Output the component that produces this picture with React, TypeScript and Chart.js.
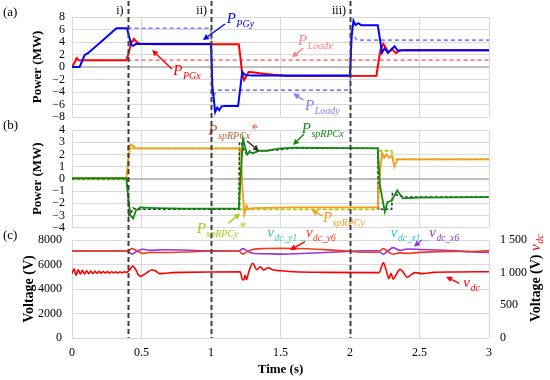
import React, { useEffect, useRef } from 'react';
import { Chart, registerables } from 'chart.js';

Chart.register(...registerables);

const FONT = '"Liberation Serif", "Times New Roman", Times, serif';
const GRID = '#D9D9D9';
const ZERO = '#BFBFBF';
const RED = '#FF0000';
const BLUE = '#0000FF';
const PINK = '#FF8080';
const LBLUE = '#8080FF';
const GREEN = '#138A13';
const ORANGE = '#F99A1C';
const SIENNA = '#BF6030';
const YGREEN = '#A8CC14';
const PURPLE = '#9933DD';
const ORED = '#F23A1E';
const TEAL = '#2ECC99';
const CYAN = '#22CCEE';

// ---- event times (vertical dashed lines) ----
const eventTimes = [0.4, 1.0, 2.0];
const eventLabels = ['i)', 'ii)', 'iii)'];

// ---- panel (a): grid powers (MW) ----
const pgyT = [0, 0.055, 0.07, 0.09, 0.115, 0.32, 0.395, 0.41, 0.425, 0.44, 0.46, 0.5, 1.0, 1.01, 1.03, 1.045, 1.06, 1.075, 1.1, 1.195, 1.21, 1.225, 1.24, 1.26, 1.3, 1.5, 2.0, 2.012, 2.025, 2.04, 2.06, 2.08, 2.2, 2.215, 2.23, 2.25, 2.27, 2.29, 2.32, 2.345, 2.4, 3.0];
const pgyV = [0, 0, 0.8, 1.9, 2.2, 6.2, 6.2, 5.0, 3.6, 3.4, 3.7, 3.7, 3.7, -3.0, -7.2, -6.5, -6.9, -6.3, -6.25, -6.25, -3.5, -0.8, -1.2, -1.3, -1.35, -1.35, -1.35, 5.0, 7.4, 6.7, 7.0, 6.7, 6.7, 4.5, 2.3, 3.0, 2.3, 2.6, 3.3, 2.6, 2.7, 2.7];
const pgxT = [0, 0.02, 0.034, 0.05, 0.07, 0.39, 0.405, 0.425, 0.445, 0.465, 0.49, 0.6, 1.2, 1.212, 1.225, 1.238, 1.255, 1.27, 1.3, 1.35, 1.45, 1.55, 1.7, 2.19, 2.205, 2.22, 2.24, 2.26, 2.275, 2.3, 2.33, 2.36, 3.0];
const pgxV = [0, 0.8, 1.4, 1.05, 1.1, 1.1, 2.0, 3.8, 4.5, 4.0, 3.7, 3.65, 3.65, 1.5, -1.2, -2.1, -1.5, -0.8, -0.85, -1.0, -1.25, -1.45, -1.45, -1.4, 0.8, 2.8, 3.7, 3.0, 2.3, 2.9, 2.2, 2.7, 2.7];
const loadxT = [0.4, 3.0];
const loadxV = [1.1, 1.1];
const loadyT = [0.4, 1.0, 1.01, 1.05, 2.0, 2.01, 2.05, 3.0];
const loadyV = [6.2, 6.2, -4.8, -3.7, -3.7, 5.6, 4.3, 4.3];

// ---- panel (b): spRPC powers (MW) ----
const rpcyT = [0, 0.39, 0.405, 0.42, 0.44, 0.46, 0.5, 1.215, 1.225, 1.24, 1.255, 1.27, 1.3, 1.6, 2.2, 2.216, 2.23, 2.245, 2.26, 2.28, 2.3, 2.32, 2.34, 3.0];
const rpcyV = [0.05, 0.05, 1.5, 2.8, 2.7, 2.5, 2.5, 2.5, -0.5, -2.9, -2.2, -2.5, -2.4, -2.35, -2.35, 0.5, 2.1, 1.7, 2.0, 1.7, 1.9, 1.0, 1.6, 1.6];
const rpcxT = [0, 0.39, 0.405, 0.42, 0.44, 0.46, 0.49, 0.6, 0.8, 1.2, 1.215, 1.23, 1.245, 1.26, 1.28, 1.3, 1.35, 1.4, 1.5, 1.6, 2.2, 2.215, 2.25, 2.27, 2.3, 2.34, 2.38, 2.5, 3.0];
const rpcxV = [0.05, 0.05, -1.5, -3.0, -3.25, -2.6, -2.35, -2.4, -2.45, -2.45, 0.5, 3.3, 2.6, 2.0, 2.2, 2.1, 2.3, 2.3, 2.5, 2.55, 2.5, -0.5, -2.7, -1.9, -1.8, -0.95, -1.6, -1.55, -1.5];
const rpcxRefT = [0, 0.395, 0.41, 0.425, 0.44, 0.46, 1.2, 1.205, 1.22, 1.24, 1.26, 1.28, 1.3, 1.33, 1.4, 1.6, 2.2, 2.205, 2.3, 2.305, 2.33, 2.4, 3.0];
const rpcxRefV = [0, 0, -3.0, -2.8, -2.4, -2.5, -2.5, 3.0, 2.9, 2.3, 2.0, 2.3, 2.1, 2.3, 2.3, 2.5, 2.5, -2.5, -2.5, -1.2, -1.3, -1.5, -1.5];
const rpcyRefT = [0, 0.4, 0.403, 1.205, 1.208, 2.2, 2.203, 2.3, 2.31, 3.0];
const rpcyRefV = [-0.05, -0.05, 2.5, 2.5, -2.5, -2.5, 2.3, 2.3, 1.6, 1.6];

// ---- panel (c): voltages ----
const smT = [0, 0.4, 0.43, 0.47, 0.51, 0.56, 0.65, 0.8, 1.0, 1.2, 1.23, 1.26, 1.3, 1.4, 1.5, 1.7, 1.9, 2.0, 2.1, 2.2, 2.24, 2.27, 2.31, 2.36, 2.41, 2.5, 2.75, 2.85, 3.0];
const vdcY6V = [7100, 7100, 7300, 7100, 6900, 6980, 6980, 7020, 7080, 7080, 6850, 7050, 7230, 7300, 7320, 7280, 7150, 7080, 7000, 7000, 7300, 7080, 6840, 6950, 6910, 6990, 7070, 7050, 7130];
const vdcX6V = [7100, 7100, 6850, 7100, 7250, 7150, 7200, 7180, 7110, 7100, 7300, 7100, 6920, 6880, 6850, 6920, 7020, 7080, 7120, 7120, 6840, 7080, 7380, 7150, 7260, 7230, 7130, 7050, 6990];
const vdcT = [
  0, 0.015, 0.03, 0.045, 0.06, 0.075, 0.09, 0.105, 0.12, 0.135, 0.15, 0.165, 0.18, 0.195, 0.21, 0.225, 0.24, 0.255, 0.27, 0.285, 0.3, 0.315, 0.33, 0.345, 0.36, 0.375, 0.39,
  0.415, 0.435, 0.455, 0.475, 0.49, 0.51, 0.54, 0.57, 0.6, 0.63, 0.67, 0.72, 0.8, 1.0, 1.21,
  1.225, 1.235, 1.245, 1.255, 1.27, 1.3, 1.33, 1.355, 1.38, 1.41, 1.45, 1.5, 1.6, 1.8, 2.21,
  2.225, 2.24, 2.26, 2.28, 2.295, 2.31, 2.33, 2.36, 2.385, 2.41, 2.44, 2.47, 2.52, 2.6, 2.75, 3.0,
];
const vdcV = [
  985, 1060, 960, 1045, 975, 1035, 980, 1030, 985, 1025, 988, 1022, 990, 1020, 992, 1018, 994, 1016, 995, 1015, 996, 1014, 997, 1013, 998, 1012, 1005,
  1040, 1100, 1060, 975, 945, 960, 1000, 1040, 1030, 985, 990, 1000, 1005, 1010, 1012,
  900, 890, 960, 895, 1000, 1143, 1045, 1090, 1040, 1075, 1040, 1030, 1015, 1005, 1000,
  1080, 1150, 1040, 910, 990, 900, 960, 1050, 1000, 930, 970, 1000, 985, 1005, 1010, 1015,
];

// ---- annotations (data coordinates) ----
type Lab = { t: number; v: number; main: string; sub: string; color: string; star?: boolean; axis?: string; subSize?: number };
type Arr = { t1: number; v1: number; t2: number; v2: number; color: string; axis?: string };

const labelsA: Lab[] = [
  { t: 1.113, v: 7.12, main: 'P', sub: 'PGy', color: BLUE },
  { t: 0.729, v: -1.28, main: 'P', sub: 'PGx', color: RED },
  { t: 1.626, v: 3.52, main: 'P', sub: 'Loadx', color: PINK },
  { t: 1.676, v: -6.88, main: 'P', sub: 'Loady', color: LBLUE },
];
const arrowsA: Arr[] = [
  { t1: 1.101, v1: 6.88, t2: 0.942, v2: 4.32, color: BLUE },
  { t1: 0.719, v1: -0.32, t2: 0.576, v2: 2.72, color: RED },
  { t1: 1.664, v1: 2.99, t2: 1.581, v2: 1.55, color: PINK },
  { t1: 1.664, v1: -5.28, t2: 1.592, v2: -4.21, color: LBLUE },
];
const labelsB: Lab[] = [
  { t: 0.981, v: 3.59, main: 'P', sub: 'spRPCx', color: SIENNA, star: true },
  { t: 1.653, v: 3.75, main: 'P', sub: 'spRPCx', color: GREEN },
  { t: 1.806, v: -3.54, main: 'P', sub: 'spRPCy', color: ORANGE },
  { t: 0.897, v: -4.44, main: 'P', sub: 'spRPCy', color: YGREEN, star: true },
];
const arrowsB: Arr[] = [
  { t1: 1.259, v1: 3.1, t2: 1.345, v2: 2.28, color: '#333333' },
  { t1: 1.669, v1: 3.67, t2: 1.59, v2: 2.77, color: GREEN },
  { t1: 1.804, v1: -3.05, t2: 1.724, v2: -2.56, color: ORANGE },
  { t1: 1.124, v1: -3.65, t2: 1.209, v2: -2.83, color: YGREEN },
];
const labelsC: Lab[] = [
  { t: 1.405, v: 8245, main: 'v', sub: 'dc_y1 ...', color: TEAL, subSize: 9.5 },
  { t: 1.683, v: 8245, main: 'v', sub: 'dc_y6', color: ORED, subSize: 9.5 },
  { t: 2.293, v: 8245, main: 'v', sub: 'dc_x1 ...', color: CYAN, subSize: 9.5 },
  { t: 2.571, v: 8245, main: 'v', sub: 'dc_x6', color: PURPLE, subSize: 9.5 },
  { t: 2.815, v: 781, main: 'v', sub: 'dc', color: RED, axis: 'y2' },
];
const arrowsC: Arr[] = [
  { t1: 1.676, v1: 7861, t2: 1.568, v2: 7184, color: RED },
  { t1: 2.516, v1: 8000, t2: 2.46, v2: 7453, color: PURPLE },
  { t1: 2.786, v1: 837, t2: 2.691, v2: 938, color: RED, axis: 'y2' },
];

const pts = (t: number[], v: number[]) => t.map((x, i) => ({ x, y: v[i] }));
const minus = (v: number) => (v < 0 ? '\u2212' + Math.abs(v) : String(v));
const spaced = (v: number) => String(v).replace(/\B(?=(\d{3})+(?!\d))/g, ' ');

function line(label: string, t: number[], v: number[], color: string, width: number, extra: any = {}) {
  return { label, data: pts(t, v), borderColor: color, backgroundColor: color, borderWidth: width, pointRadius: 0, fill: false, tension: 0, ...extra };
}

function drawSub(ctx: CanvasRenderingContext2D, x: number, y: number, l: Lab) {
  ctx.save();
  ctx.fillStyle = l.color;
  ctx.textAlign = 'left';
  ctx.textBaseline = 'alphabetic';
  ctx.font = `italic 15px ${FONT}`;
  ctx.fillText(l.main, x, y);
  let w = ctx.measureText(l.main).width + 0.5;
  ctx.font = `italic ${l.subSize || 10}px ${FONT}`;
  ctx.fillText(l.sub, x + w, y + 4);
  w += ctx.measureText(l.sub).width;
  if (l.star) {
    ctx.font = `14px ${FONT}`;
    ctx.fillText('*', x + w + 1, y - 1);
  }
  ctx.restore();
}

function drawArrow(ctx: CanvasRenderingContext2D, x1: number, y1: number, x2: number, y2: number, color: string) {
  const ang = Math.atan2(y2 - y1, x2 - x1);
  const hl = 6, hw = 3;
  const bx = x2 - hl * Math.cos(ang), by = y2 - hl * Math.sin(ang);
  ctx.save();
  ctx.strokeStyle = color;
  ctx.fillStyle = color;
  ctx.lineWidth = 1.4;
  ctx.beginPath();
  ctx.moveTo(x1, y1);
  ctx.lineTo(bx, by);
  ctx.stroke();
  ctx.beginPath();
  ctx.moveTo(x2, y2);
  ctx.lineTo(bx - hw * Math.sin(ang), by + hw * Math.cos(ang));
  ctx.lineTo(bx + hw * Math.sin(ang), by - hw * Math.cos(ang));
  ctx.closePath();
  ctx.fill();
  ctx.restore();
}

function annotPlugin(id: string, panel: string, labels: Lab[], arrows: Arr[], extra?: (chart: any) => void) {
  return {
    id,
    afterDatasetsDraw(chart: any) {
      const ctx = chart.ctx as CanvasRenderingContext2D;
      const xs = chart.scales.x;
      arrows.forEach((a) => {
        const ys = chart.scales[a.axis || 'y'];
        drawArrow(ctx, xs.getPixelForValue(a.t1), ys.getPixelForValue(a.v1), xs.getPixelForValue(a.t2), ys.getPixelForValue(a.v2), a.color);
      });
      labels.forEach((l) => {
        const ys = chart.scales[l.axis || 'y'];
        drawSub(ctx, xs.getPixelForValue(l.t), ys.getPixelForValue(l.v), l);
      });
      ctx.save();
      ctx.fillStyle = '#000';
      ctx.font = `13px ${FONT}`;
      ctx.textAlign = 'left';
      ctx.textBaseline = 'alphabetic';
      ctx.fillText(panel, 3, chart.chartArea.top - 1.5);
      ctx.restore();
      if (extra) extra(chart);
    },
  };
}

const tickFont = { family: FONT, size: 12 };
const titleFont = (size: number) => ({ family: FONT, size, weight: 'bold' as const });

function xScale(show: boolean) {
  return {
    type: 'linear',
    min: 0,
    max: 3,
    ticks: { display: show, stepSize: 0.5, padding: 8, font: tickFont, color: '#000', callback: (v: any) => String(v) },
    grid: { color: GRID, drawTicks: false, lineWidth: 1 },
    border: { display: false },
    title: show
      ? { display: true, text: 'Time (s)', font: titleFont(13), color: '#000', padding: { top: 0, bottom: 3 } }
      : { display: false },
    afterFit: (s: any) => {
      s.height = show ? 42 : 0;
    },
  };
}

function powerY(min: number, max: number, step: number) {
  return {
    type: 'linear',
    min,
    max,
    ticks: { stepSize: step, autoSkip: false, padding: 7, font: tickFont, color: '#000', callback: (v: any) => minus(v) },
    grid: {
      color: (c: any) => (c.tick && c.tick.value === 0 ? ZERO : GRID),
      lineWidth: (c: any) => (c.tick && c.tick.value === 0 ? 2 : 1),
      drawTicks: false,
    },
    border: { display: false },
    title: { display: true, text: 'Power (MW)', font: titleFont(13), color: '#000', padding: { top: 0, bottom: 0 } },
    afterFit: (s: any) => {
      s.width = 42.3;
    },
  };
}

function baseOptions(padding: any, scales: any) {
  return {
    responsive: false,
    animation: false,
    events: [],
    layout: { padding },
    plugins: { legend: { display: false }, tooltip: { enabled: false } },
    scales,
  };
}

function configA(): any {
  return {
    type: 'line',
    data: {
      datasets: [
        line('P_PGy', pgyT, pgyV, BLUE, 2),
        line('P_PGx', pgxT, pgxV, RED, 2),
        line('P_Loadx', loadxT, loadxV, PINK, 1.6, { borderDash: [4, 3] }),
        line('P_Loady', loadyT, loadyV, LBLUE, 1.6, { borderDash: [4, 3] }),
      ],
    },
    options: baseOptions({ left: 29.7, right: 61, top: 17, bottom: 263 }, { x: xScale(false), y: powerY(-8, 8, 2) }),
    plugins: [
      annotPlugin('annA', '(a)', labelsA, arrowsA, (chart: any) => {
        const ctx = chart.ctx as CanvasRenderingContext2D;
        ctx.save();
        ctx.fillStyle = '#000';
        ctx.font = `12px ${FONT}`;
        ctx.textAlign = 'right';
        ctx.textBaseline = 'alphabetic';
        eventTimes.forEach((t, i) => {
          ctx.fillText(eventLabels[i], chart.scales.x.getPixelForValue(t) - 4, chart.chartArea.top - 3.5);
        });
        ctx.restore();
      }),
    ],
  };
}

function configB(): any {
  return {
    type: 'line',
    data: {
      datasets: [
        line('P_spRPCx', rpcxT, rpcxV, GREEN, 1.8),
        line('P_spRPCy', rpcyT, rpcyV, ORANGE, 1.8),
        line('P_spRPCx*', rpcxRefT, rpcxRefV, '#1F3F1F', 1.5, { borderDash: [3, 2] }),
        line('P_spRPCy*', rpcyRefT, rpcyRefV, YGREEN, 1.8, { borderDash: [4, 2] }),
      ],
    },
    options: baseOptions({ left: 29.7, right: 61, top: 130, bottom: 152.4 }, { x: xScale(false), y: powerY(-4, 4, 1) }),
    plugins: [annotPlugin('annB', '(b)', labelsB, arrowsB)],
  };
}

function configC(): any {
  return {
    type: 'line',
    data: {
      datasets: [
        line('v_dc_y6', smT, vdcY6V, ORED, 1.6, { cubicInterpolationMode: 'monotone', yAxisID: 'y' }),
        line('v_dc_x6', smT, vdcX6V, PURPLE, 1.6, { cubicInterpolationMode: 'monotone', yAxisID: 'y' }),
        line('v_dc', vdcT, vdcV, RED, 1.6, { cubicInterpolationMode: 'monotone', yAxisID: 'y2' }),
      ],
    },
    options: baseOptions(
      { left: 21.1, right: 21, top: 240, bottom: 0 },
      {
        x: xScale(true),
        y: {
          type: 'linear',
          position: 'left',
          min: 0,
          max: 8000,
          ticks: { stepSize: 2000, autoSkip: false, padding: 10, font: tickFont, color: '#000', callback: (v: any) => String(v) },
          grid: { color: GRID, drawTicks: false },
          border: { display: false },
          title: { display: true, text: 'Voltage (V)', font: titleFont(14), color: '#000', padding: { top: 0, bottom: 0 } },
          afterFit: (s: any) => {
            s.width = 50.9;
          },
        },
        y2: {
          type: 'linear',
          position: 'right',
          min: 0,
          max: 1500,
          ticks: { stepSize: 500, autoSkip: false, padding: 11, font: tickFont, color: '#000', callback: (v: any) => spaced(v) },
          grid: { display: false, drawTicks: false },
          border: { display: false },
          afterFit: (s: any) => {
            s.width = 40;
          },
        },
      }
    ),
    plugins: [
      annotPlugin('annC', '(c)', labelsC, arrowsC, (chart: any) => {
        const ctx = chart.ctx as CanvasRenderingContext2D;
        const xs = chart.scales.x;
        // vertical event lines across all panels
        ctx.save();
        ctx.strokeStyle = '#404040';
        ctx.lineWidth = 2;
        ctx.setLineDash([5, 3]);
        eventTimes.forEach((t) => {
          const x = Math.round(xs.getPixelForValue(t)) + 0.5;
          ctx.beginPath();
          ctx.moveTo(x, 1);
          ctx.lineTo(x, chart.chartArea.bottom);
          ctx.stroke();
        });
        ctx.restore();
        // right axis title
        const y2 = chart.scales.y2;
        ctx.save();
        ctx.translate(y2.right + 7, (chart.chartArea.bottom + chart.chartArea.top) / 2 + 33);
        ctx.rotate(-Math.PI / 2);
        ctx.textBaseline = 'middle';
        ctx.textAlign = 'left';
        ctx.fillStyle = '#000';
        ctx.font = `bold 14px ${FONT}`;
        const t1 = 'Voltage (V) ';
        ctx.fillText(t1, 0, 0);
        let w = ctx.measureText(t1).width;
        ctx.fillStyle = RED;
        ctx.font = `italic 15px ${FONT}`;
        ctx.fillText('v', w, 0);
        w += ctx.measureText('v').width + 0.5;
        ctx.font = `italic 10px ${FONT}`;
        ctx.fillText('dc', w, 4);
        ctx.restore();
      }),
    ],
  };
}

export default function App() {
  const ra = useRef<HTMLCanvasElement>(null);
  const rb = useRef<HTMLCanvasElement>(null);
  const rc = useRef<HTMLCanvasElement>(null);
  useEffect(() => {
    const charts = [new Chart(ra.current!, configA()), new Chart(rb.current!, configB()), new Chart(rc.current!, configC())];
    return () => charts.forEach((c) => c.destroy());
  }, []);
  const cs: React.CSSProperties = { position: 'absolute', left: 0, top: 0, width: 550, height: 380 };
  return (
    <div style={{ position: 'fixed', left: 0, top: 0, width: 550, height: 380, background: '#fff' }}>
      <canvas ref={ra} width={550} height={380} style={cs} />
      <canvas ref={rb} width={550} height={380} style={cs} />
      <canvas ref={rc} width={550} height={380} style={cs} />
    </div>
  );
}
